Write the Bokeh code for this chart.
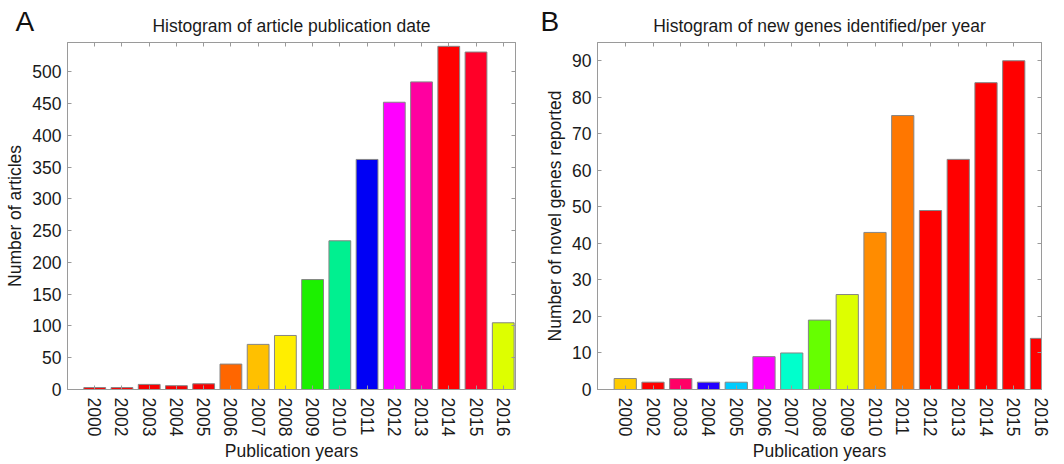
import math
from bokeh.plotting import figure
from bokeh.layouts import row
from bokeh.models import Range1d, FixedTicker, LinearAxis, Label, CustomLabelingPolicy
from bokeh.embed import file_html
from bokeh.resources import INLINE

# ---------------- data ----------------
years_a = ["2000", "2002", "2003", "2004", "2005", "2006", "2007", "2008",
           "2009", "2010", "2011", "2012", "2013", "2014", "2015", "2016"]
articles = [3, 3, 8, 6, 9, 40, 71, 85, 173, 234, 362, 452, 484, 540, 531, 105]
colors_a = ["#ff0000", "#ff0000", "#f80000", "#f80000", "#f80000", "#ff6600",
            "#ffc000", "#ffee00", "#1cf000", "#00f090", "#0000f5", "#ff00ff",
            "#ff00a0", "#ff0000", "#ff0028", "#ddff00"]

years_b = ["2000", "2002", "2003", "2004", "2005", "2006", "2007", "2008",
           "2009", "2010", "2011", "2012", "2013", "2014", "2015", "2016"]
genes = [3, 2, 3, 2, 2, 9, 10, 19, 26, 43, 75, 49, 63, 84, 90, 14]
colors_b = ["#ffcc00", "#ff0000", "#ff0066", "#2200ff", "#00ccff", "#ff00ff",
            "#00ffcc", "#66ff00", "#ddff00", "#ff8c00", "#ff7700", "#ff0000",
            "#ff0000", "#ff0000", "#ff0000", "#ff0000"]

FONT = "Liberation Sans"
TXT = "#1a1a1a"
AXC = "#9a9a9a"
FS = "17.5px"
H = 464
BT = 42   # border top
FH = 347  # frame height


def hidden_axis(ticks):
    return LinearAxis(ticker=FixedTicker(ticks=ticks),
                      major_label_policy=CustomLabelingPolicy(
                          code="for (const i of indices) indices.unset(i); return indices"),
                      major_label_text_font_size="1px", major_label_standoff=0,
                      major_tick_in=4, major_tick_out=0,
                      minor_tick_in=0, minor_tick_out=0,
                      axis_line_color=AXC, major_tick_line_color=AXC)


def panel(title, letter, letter_x, years, values, colors, ylabel,
          y_end, y_step, x_end, width, bl, br):
    pos = list(range(1, len(years) + 1))
    yt = list(range(0, int(y_end) + 1, y_step))
    p = figure(width=width, height=H,
               x_range=Range1d(0, x_end), y_range=Range1d(0, y_end),
               output_backend="svg", toolbar_location=None,
               min_border_left=bl, min_border_right=br,
               min_border_top=BT, min_border_bottom=H - BT - FH,
               title=title)
    p.vbar(x=pos, top=values, bottom=0, width=0.8,
           fill_color=colors, line_color="#858585", line_width=1)

    p.xgrid.visible = False
    p.ygrid.visible = False
    p.outline_line_color = AXC
    p.background_fill_color = "white"
    p.border_fill_color = "white"

    p.title.text_font = FONT
    p.title.text_font_size = FS
    p.title.text_font_style = "normal"
    p.title.text_color = TXT
    p.title.align = "center"
    p.title.standoff = 5

    xa = p.xaxis[0]
    xa.ticker = FixedTicker(ticks=pos)
    xa.major_label_overrides = {k: v for k, v in zip(pos, years)}
    xa.major_label_orientation = "vertical"
    xa.major_label_text_font = FONT
    xa.major_label_text_font_size = FS
    xa.major_label_text_color = TXT
    xa.major_label_standoff = 8
    xa.major_tick_in = 4
    xa.major_tick_out = 0
    xa.minor_tick_in = 0
    xa.minor_tick_out = 0
    xa.axis_line_color = AXC
    xa.major_tick_line_color = AXC
    xa.axis_label = "Publication years"
    xa.axis_label_text_font = FONT
    xa.axis_label_text_font_size = FS
    xa.axis_label_text_font_style = "normal"
    xa.axis_label_text_color = TXT
    xa.axis_label_standoff = 2

    ya = p.yaxis[0]
    ya.ticker = FixedTicker(ticks=yt)
    ya.major_label_text_font = FONT
    ya.major_label_text_font_size = FS
    ya.major_label_text_color = TXT
    ya.major_label_standoff = 6
    ya.major_tick_in = 4
    ya.major_tick_out = 0
    ya.minor_tick_in = 0
    ya.minor_tick_out = 0
    ya.axis_line_color = AXC
    ya.major_tick_line_color = AXC
    ya.axis_label = ylabel
    ya.axis_label_text_font = FONT
    ya.axis_label_text_font_size = FS
    ya.axis_label_text_font_style = "normal"
    ya.axis_label_text_color = TXT
    ya.axis_label_standoff = 4

    p.add_layout(hidden_axis(pos), "above")
    p.add_layout(hidden_axis(yt), "right")

    # panel letter, placed in the right side panel (not clipped to the frame)
    p.add_layout(Label(x=letter_x, y=368, x_units="screen", y_units="screen",
                       text=letter, text_font=FONT, text_font_size="28px",
                       text_color="#111111", text_align="left",
                       text_baseline="alphabetic"), "right")
    return p


pa = panel("Histogram of article publication date", "A", -505,
           years_a, articles, colors_a, "Number of articles",
           546, 50, 16.45, 539, 67, 22)
pb = panel("Histogram of new genes identified/per year", "B", -505,
           years_b, genes, colors_b, "Number of novel genes reported",
           95, 10, 16, 525, 58, 21)

layout = row(pa, pb)
open("out.html", "w").write(file_html(layout, INLINE))
